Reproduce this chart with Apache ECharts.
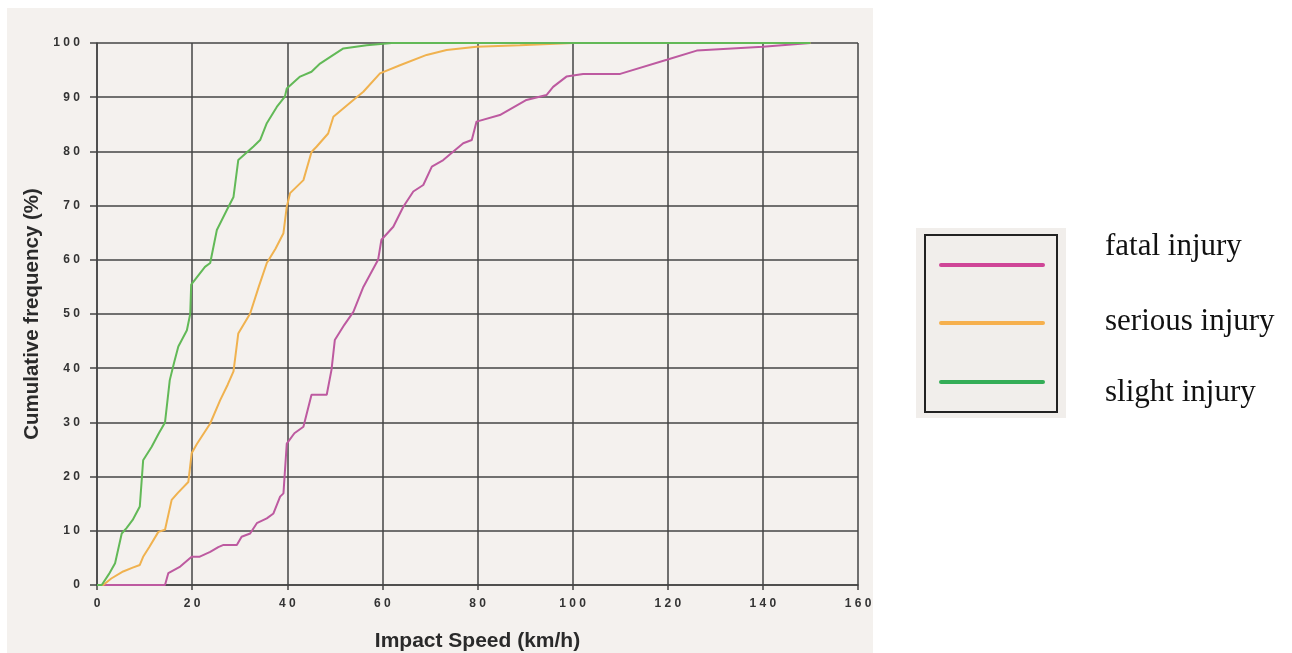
<!DOCTYPE html>
<html>
<head>
<meta charset="utf-8">
<script src="https://cdn.jsdelivr.net/npm/echarts@6/dist/echarts.min.js"></script>
<style>
html,body{margin:0;padding:0;background:#ffffff;}
#chart{width:1292px;height:653px;}
</style>
</head>
<body>
<div id="chart"></div>
<script>
// ---- data ----
const seriesNames = ['fatal injury', 'serious injury', 'slight injury'];
const xTitle = 'Impact Speed (km/h)';
const yTitle = 'Cumulative frequency (%)';

const fatal = [[0,0],[14.3,0],[15,2.2],[17.5,3.4],[19.9,5.2],[21.5,5.2],[23.8,6.1],[25.5,7],[26.6,7.4],[29.4,7.4],[30.4,8.9],[32.2,9.5],[33.6,11.4],[35.7,12.3],[37.1,13.2],[38.5,16.3],[39.2,16.9],[39.9,26.1],[41.5,28],[43.4,29.2],[45.1,35.1],[48.3,35.1],[49.3,39.7],[50,45.2],[52,48],[53.9,50.4],[56,55],[59.1,60],[59.8,63.7],[62.3,66.1],[64.4,69.8],[66.5,72.6],[68.6,73.8],[70.4,77.2],[72.8,78.4],[77,81.5],[78.8,82.1],[79.8,85.5],[84.7,86.7],[90.3,89.5],[94.5,90.4],[95.9,91.9],[98.7,93.8],[102.2,94.3],[110,94.3],[119.8,96.9],[126.1,98.6],[140,99.3],[150,100]];

const serious = [[0,0],[1.3,0],[3,1.2],[5.5,2.5],[7.5,3.2],[9,3.7],[9.7,5.2],[11,7],[12.9,9.8],[14.3,10.2],[15.7,15.7],[17,17],[19.2,19],[19.9,24.3],[21,26],[23.8,29.8],[25.9,34.1],[27.5,37],[28.7,39.4],[29.7,46.4],[32.2,50.1],[34,55],[35.7,59.4],[37.5,62],[39.2,64.9],[39.9,69.8],[40.6,72.3],[43.4,74.7],[45.1,79.9],[46.2,80.9],[48.6,83.3],[49.7,86.4],[53.9,89.5],[56,91],[59.5,94.4],[63.7,95.9],[69.3,97.8],[73.5,98.7],[79.8,99.3],[88.9,99.6],[100,100],[150,100]];

const slight = [[0,0],[1,0],[2.5,2],[3.8,4],[5.2,9.5],[6.2,10.5],[7.5,12],[9,14.5],[9.7,23],[11.5,25.5],[13,28],[14.3,30],[15.3,37.8],[16.2,41],[17.1,44],[18.9,47],[19.6,50],[19.8,55.4],[22.7,58.7],[23.8,59.4],[25.2,65.5],[27.3,69.2],[28.7,71.6],[29.7,78.4],[32.9,80.9],[34.3,82.1],[35.7,85.2],[37.8,88.2],[39.5,90.1],[39.9,91.6],[42.7,93.8],[45.1,94.7],[46.9,96.2],[49.7,97.8],[51.8,99],[56.7,99.6],[62,100],[150,100]];

const lineColors = ['#bd5aa0', '#f0b24f', '#62b957'];
const legendColors = ['#cf4597', '#f6b04d', '#34ad57'];

// ---- chart ----
const chart = echarts.init(document.getElementById('chart'));
const spaced = v => String(v).split('').join(' ');
const legendLineY = [265, 323, 382];
const legendTextY = [247, 322, 393];

const graphic = [
  { type: 'rect', z: -10, silent: true, shape: { x: 7, y: 8, width: 866, height: 645 }, style: { fill: '#f4f1ee' } },
  { type: 'rect', z: -10, silent: true, shape: { x: 916, y: 228, width: 150, height: 190 }, style: { fill: '#f1eeeb' } },
  { type: 'rect', z: 10, silent: true, shape: { x: 925, y: 235, width: 132, height: 177 }, style: { fill: 'none', stroke: '#222', lineWidth: 2 } }
];
seriesNames.forEach((n, i) => {
  graphic.push({ type: 'line', z: 10, silent: true, shape: { x1: 941, y1: legendLineY[i], x2: 1043, y2: legendLineY[i] }, style: { stroke: legendColors[i], lineWidth: 4, lineCap: 'round' } });
  graphic.push({ type: 'text', z: 10, silent: true, x: 1105, y: legendTextY[i], style: { text: n, fill: '#111', font: '31px "Liberation Serif", "Times New Roman", serif', textVerticalAlign: 'middle', verticalAlign: 'middle' } });
});

const option = {
  backgroundColor: 'transparent',
  animation: false,
  grid: { left: 97, right: 434, top: 43, bottom: 68, containLabel: false, outerBoundsMode: 'none' },
  graphic: graphic,
  xAxis: {
    type: 'value', min: 0, max: 160, interval: 20,
    name: xTitle, nameLocation: 'middle', nameGap: 46,
    nameTextStyle: { fontFamily: 'Liberation Sans, Arial, sans-serif', fontWeight: 'bold', fontSize: 21, color: '#2a2a2a' },
    axisLine: { show: true, lineStyle: { color: '#444', width: 1.5 } },
    axisTick: { show: true, length: 5, lineStyle: { color: '#444', width: 1.5 } },
    axisLabel: { margin: 13, fontFamily: 'Liberation Sans, Arial, sans-serif', fontWeight: 'bold', fontSize: 12, color: '#333', formatter: spaced },
    splitLine: { show: true, lineStyle: { color: '#444', width: 1.5 } }
  },
  yAxis: {
    type: 'value', min: 0, max: 100, interval: 10,
    name: yTitle, nameLocation: 'middle', nameGap: 54, nameRotate: 90,
    nameTextStyle: { fontFamily: 'Liberation Sans, Arial, sans-serif', fontWeight: 'bold', fontSize: 20.5, color: '#2a2a2a' },
    axisLine: { show: true, lineStyle: { color: '#444', width: 1.5 } },
    axisTick: { show: true, length: 7, lineStyle: { color: '#444', width: 1.5 } },
    axisLabel: { margin: 17, fontFamily: 'Liberation Sans, Arial, sans-serif', fontWeight: 'bold', fontSize: 12, color: '#333', formatter: spaced },
    splitLine: { show: true, lineStyle: { color: '#444', width: 1.5 } }
  },
  series: [
    { name: seriesNames[0], type: 'line', data: fatal, showSymbol: false, lineStyle: { color: lineColors[0], width: 2 }, itemStyle: { color: lineColors[0] }, z: 3 },
    { name: seriesNames[1], type: 'line', data: serious, showSymbol: false, lineStyle: { color: lineColors[1], width: 2 }, itemStyle: { color: lineColors[1] }, z: 4 },
    { name: seriesNames[2], type: 'line', data: slight, showSymbol: false, lineStyle: { color: lineColors[2], width: 2 }, itemStyle: { color: lineColors[2] }, z: 5 }
  ]
};
chart.setOption(option);
</script>
</body>
</html>
